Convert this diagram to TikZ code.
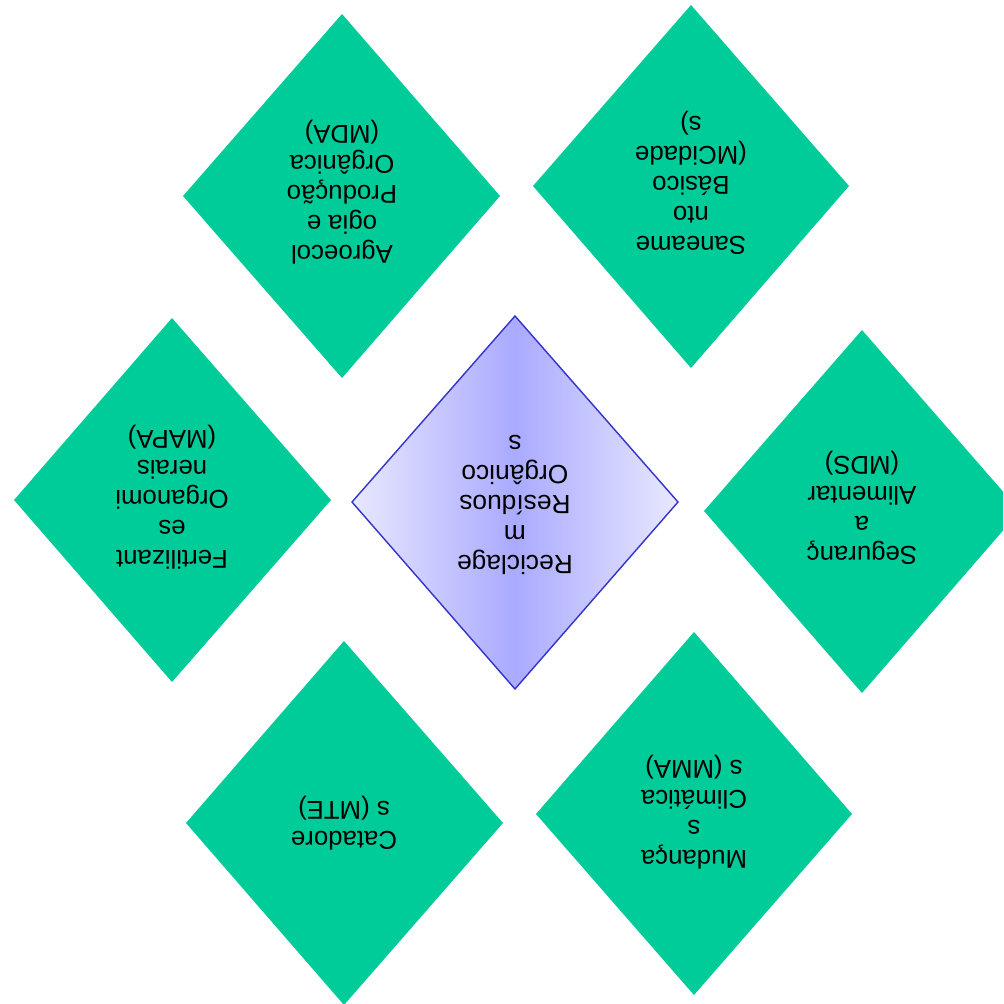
\documentclass[tikz,border=0pt]{standalone}
\usepackage{fontspec}
\setmainfont{Liberation Sans}
\definecolor{mintgreen}{HTML}{00CC99}
\definecolor{lavmid}{HTML}{AAAAFF}
\definecolor{lavlight}{HTML}{E8E8FF}
\definecolor{edgeblue}{HTML}{3333CC}
\tikzset{
  greenbox/.style={fill=mintgreen, draw=none},
  centerbox/.style={draw=edgeblue, line width=1.2pt, left color=lavlight, right color=lavlight, middle color=lavmid},
  label/.style={rotate=180, align=center, inner sep=0pt, font=\fontsize{22}{25.5}\selectfont, text=black}
}
\begin{document}
\begin{tikzpicture}[x=0.03cm, y=-0.03cm]
\useasboundingbox (0,0) rectangle (1003,1004);
\clip (0,0) rectangle (1003,1004);
% outer diamonds
\fill[greenbox] (342,14) -- (500,196) -- (342,378) -- (183,196) -- cycle;
\fill[greenbox] (691,5) -- (849,186) -- (691,368) -- (533,186) -- cycle;
\fill[greenbox] (172,318) -- (331,500) -- (172,682) -- (14,500) -- cycle;
\fill[greenbox] (862,330) -- (1020,511) -- (862,693) -- (704,511) -- cycle;
\fill[greenbox] (344,641) -- (503,823) -- (344,1005) -- (186,823) -- cycle;
\fill[greenbox] (694,632) -- (852,814) -- (694,995) -- (536,814) -- cycle;
% center diamond
\path[centerbox] (515,316) -- (678,502) -- (515,689) -- (352,502) -- cycle;
% labels
\node[label, font=\fontsize{22.5}{25.5}\selectfont] (center) at (515,505) {Reciclage\\m\\Resíduos\\Orgânico\\s};
\node[label] (agro) at (342,192) {Agroecol\\ogia e\\Produção\\Orgânica\\(MDA)};
\node[label] (sane) at (691,183) {Saneame\\nto\\Básico\\(MCidade\\s)};
\node[label] (fert) at (172,497) {Fertilizant\\es\\Organomi\\nerais\\(MAPA)};
\node[label] (segu) at (862,508) {Seguranç\\a\\Alimentar\\(MDS)};
\node[label] (muda) at (694,812) {Mudança\\s\\Climática\\s (MMA)};
\node[label] (cata) at (344,823) {Catadore\\s (MTE)};
\end{tikzpicture}
\end{document}
